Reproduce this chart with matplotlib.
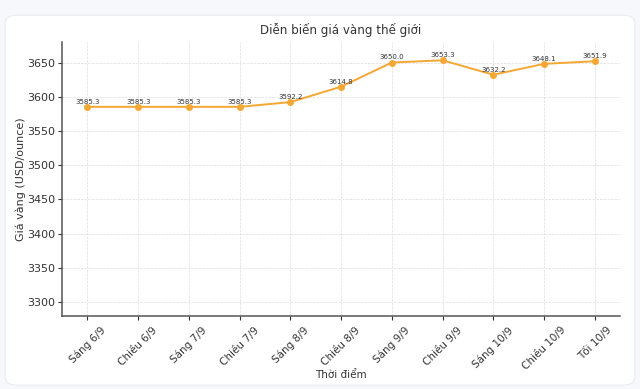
import matplotlib.pyplot as plt
from matplotlib.patches import FancyBboxPatch

labels = ['Sáng 6/9', 'Chiều 6/9', 'Sáng 7/9', 'Chiều 7/9', 'Sáng 8/9', 'Chiều 8/9',
          'Sáng 9/9', 'Chiều 9/9', 'Sáng 10/9', 'Chiều 10/9', 'Tối 10/9']
prices = [3585.3, 3585.3, 3585.3, 3585.3, 3592.2, 3614.8,
          3650.0, 3653.3, 3632.2, 3648.1, 3651.9]
yticks = [3300, 3350, 3400, 3450, 3500, 3550, 3600, 3650]

fig = plt.figure(figsize=(6.4, 3.89), dpi=100)
fig.patch.set_facecolor('#f6f8fb')

# white rounded card behind the chart
card = FancyBboxPatch((0.008, 0.01), 0.984, 0.951, boxstyle='round,pad=0,rounding_size=0.02',
                      transform=fig.transFigure, facecolor='white', edgecolor='#e8ebf0',
                      linewidth=0.8, zorder=-10)
fig.patches.append(card)

ax = fig.add_axes([0.097, 0.188, 0.872, 0.704])
ax.set_facecolor('none')

x = list(range(len(labels)))
ax.plot(x, prices, color='#f5a733', linewidth=1.4, marker='o', markersize=4)
for xi, p in zip(x, prices):
    ax.annotate(f'{p:.1f}', (xi, p), textcoords='offset points', xytext=(0, 1.5),
                ha='center', va='bottom', fontsize=5, color='#333333')

ax.set_xlim(-0.5, 10.5)
ax.set_ylim(3280, 3680)
ax.set_yticks(yticks)
ax.set_xticks(x)
ax.set_xticklabels(labels, rotation=45, fontsize=7.5)
ax.tick_params(axis='y', labelsize=8, pad=2)
ax.tick_params(colors='#333333', length=3)

ax.grid(True, linestyle='--', linewidth=0.5, color='#dddddd')
for s in ['top', 'right']:
    ax.spines[s].set_visible(False)
for s in ['left', 'bottom']:
    ax.spines[s].set_color('#555555')
    ax.spines[s].set_linewidth(1.1)

ax.set_title('Diễn biến giá vàng thế giới', fontsize=8.6, color='#333333', pad=6)
ax.set_xlabel('Thời điểm', fontsize=7.5, color='#333333')
ax.xaxis.set_label_coords(0.5, -0.196)
ax.set_ylabel('Giá vàng (USD/ounce)', fontsize=8, color='#333333')
ax.yaxis.set_label_coords(-0.064, 0.5)

fig.savefig('out.png', dpi=100, facecolor=fig.get_facecolor())
